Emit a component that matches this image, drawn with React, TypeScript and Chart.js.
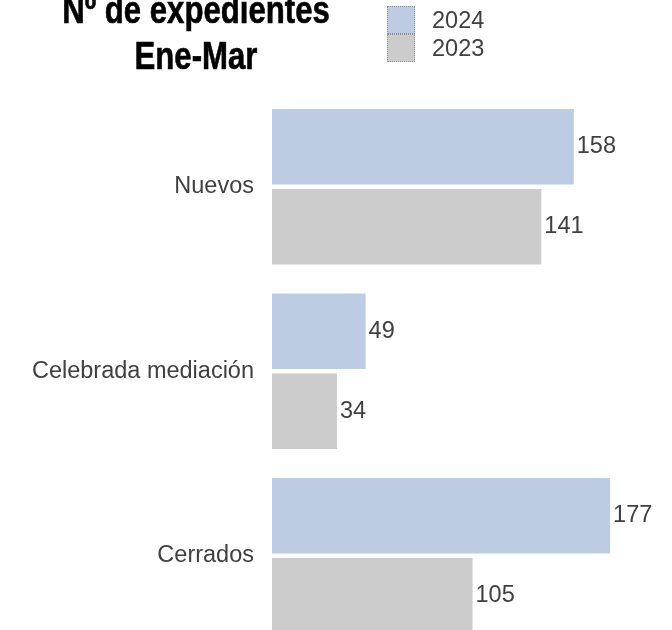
import { useEffect, useRef } from "react";
import { Chart, registerables } from "chart.js";

Chart.register(...registerables);

const categories = ["Nuevos", "Celebrada mediación", "Cerrados"];
const seriesLabels = ["2024", "2023"];
const values2024 = [158, 49, 177];
const values2023 = [141, 34, 105];
const seriesColors = ["#BDCCE3", "#CCCCCC"];
const titleLines = ["Nº de expedientes", "Ene-Mar"];

const LABEL_FONT = "'Liberation Sans', Arial, sans-serif";
const TEXT_COLOR = "#404040";

export default function App() {
  const ref = useRef<HTMLCanvasElement | null>(null);

  useEffect(() => {
    if (!ref.current) return;
    const valueLabels = {
      id: "valueLabels",
      afterDatasetsDraw(chart: any) {
        const ctx = chart.ctx;
        ctx.save();
        ctx.font = `23.5px ${LABEL_FONT}`;
        ctx.fillStyle = TEXT_COLOR;
        ctx.textAlign = "left";
        ctx.textBaseline = "middle";
        chart.data.datasets.forEach((ds: any, di: number) => {
          const meta = chart.getDatasetMeta(di);
          meta.data.forEach((el: any, i: number) => {
            ctx.fillText(String(ds.data[i]), el.x + 3, el.y);
          });
        });
        ctx.restore();
      },
    };

    const chart = new Chart(ref.current, {
      type: "bar",
      data: {
        labels: categories,
        datasets: [
          {
            label: seriesLabels[0],
            data: values2024,
            backgroundColor: seriesColors[0],
            categoryPercentage: 0.867,
            barPercentage: 0.946,
          },
          {
            label: seriesLabels[1],
            data: values2023,
            backgroundColor: seriesColors[1],
            categoryPercentage: 0.867,
            barPercentage: 0.946,
          },
        ],
      },
      options: {
        animation: false,
        responsive: false,
        indexAxis: "y",
        layout: { padding: { top: 94.5, bottom: 12, left: 0, right: 18 } },
        plugins: {
          legend: { display: false },
          title: { display: false },
          tooltip: { enabled: false },
        },
        scales: {
          x: { display: false, min: 0, max: 200 },
          y: {
            grid: { display: false, drawTicks: false },
            border: { display: false },
            ticks: {
              padding: 18,
              color: TEXT_COLOR,
              font: { family: LABEL_FONT, size: 23.5 },
            },
            afterFit: (s: any) => {
              s.width = 272;
              s.paddingTop = 0;
              s.paddingBottom = 0;
            },
          },
        },
      },
      plugins: [valueLabels],
    } as any);

    return () => chart.destroy();
  }, []);

  return (
    <div
      style={{
        position: "fixed",
        left: 0,
        top: 0,
        width: 672,
        height: 630,
        overflow: "hidden",
        background: "#fff",
      }}
    >
      <canvas
        ref={ref}
        width={672}
        height={660}
        style={{ position: "absolute", left: 0, top: 0 }}
      />
      <div
        style={{
          position: "absolute",
          left: 0,
          top: -13.2,
          width: 392,
          textAlign: "center",
          fontFamily: LABEL_FONT,
          fontWeight: "bold",
          fontSize: 38,
          lineHeight: "46px",
          color: "#000",
          whiteSpace: "nowrap",
          transform: "scaleX(0.82)",
          transformOrigin: "196px 0",
          WebkitTextStroke: "0.6px #000",
        }}
      >
        {titleLines.map((t, i) => (
          <div key={i}>{t}</div>
        ))}
      </div>
      {seriesLabels.map((lab, i) => (
        <div key={lab}>
          <div
            style={{
              position: "absolute",
              left: 387,
              top: 6 + 28 * i,
              width: 28,
              height: 28,
              boxSizing: "border-box",
              background: seriesColors[i],
              border: "1px dotted rgba(0,0,0,0.28)",
            }}
          />
          <div
            style={{
              position: "absolute",
              left: 432,
              top: 6 + 28 * i,
              height: 28,
              lineHeight: "28px",
              fontFamily: LABEL_FONT,
              fontSize: 23.5,
              color: TEXT_COLOR,
              whiteSpace: "nowrap",
            }}
          >
            {lab}
          </div>
        </div>
      ))}
    </div>
  );
}
